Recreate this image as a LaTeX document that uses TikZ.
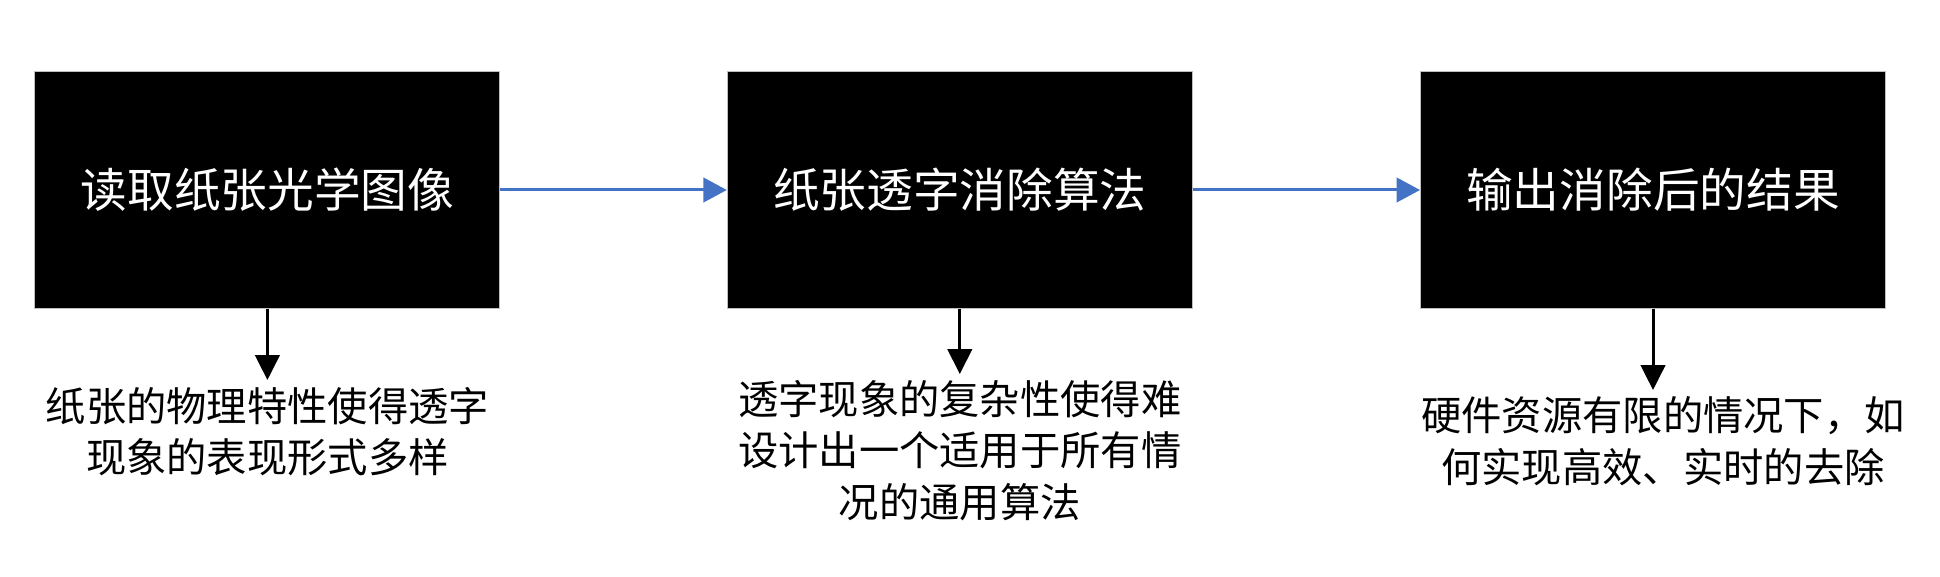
\documentclass[tikz,border=0pt]{standalone}
\usepackage{fontspec}
\setmainfont{Noto Sans CJK SC}
\usetikzlibrary{arrows.meta}
\definecolor{arrowblue}{HTML}{4472C4}
\definecolor{boxedge}{HTML}{BFBFBF}
\tikzset{
  stagebox/.style={fill=black, draw=boxedge, line width=1pt, minimum width=465pt, minimum height=236pt, inner sep=0pt, text=white, font=\fontsize{46.7}{56}\selectfont},
  notetext/.style={inner sep=0pt, align=center, text=black, font=\fontsize{40.3}{51.5}\selectfont},
  flowarrow/.style={draw=arrowblue, line width=3pt, -{Triangle[length=23.5pt,width=24.5pt]}},
  downarrow/.style={draw=black, line width=3pt, -{Triangle[length=25pt,width=24.5pt]}}
}
\begin{document}
\begin{tikzpicture}[x=1pt,y=-1pt]
\useasboundingbox (0,0) rectangle (1940,577);
\node[stagebox] (b1) at (267.4,190) {读取纸张光学图像};
\node[stagebox] (b2) at (959.8,190) {纸张透字消除算法};
\node[stagebox] (b3) at (1653,190) {输出消除后的结果};
\draw[flowarrow] (b1.east) -- (b2.west);
\draw[flowarrow] (b2.east) -- (b3.west);
\coordinate (t1) at (267.4,380);
\coordinate (t2) at (959.8,374);
\coordinate (t3) at (1653,390);
\draw[downarrow] (b1.south) -- (t1);
\draw[downarrow] (b2.south) -- (t2);
\draw[downarrow] (b3.south) -- (t3);
\node[notetext] (n1) at (267.4,431.5) {纸张的物理特性使得透字\\现象的表现形式多样};
\node[notetext] (n2) at (959.8,450.5) {透字现象的复杂性使得难\\设计出一个适用于所有情\\况的通用算法};
\node[notetext] (n3) at (1663,441) {硬件资源有限的情况下，如\\何实现高效、实时的去除};
\end{tikzpicture}
\end{document}
